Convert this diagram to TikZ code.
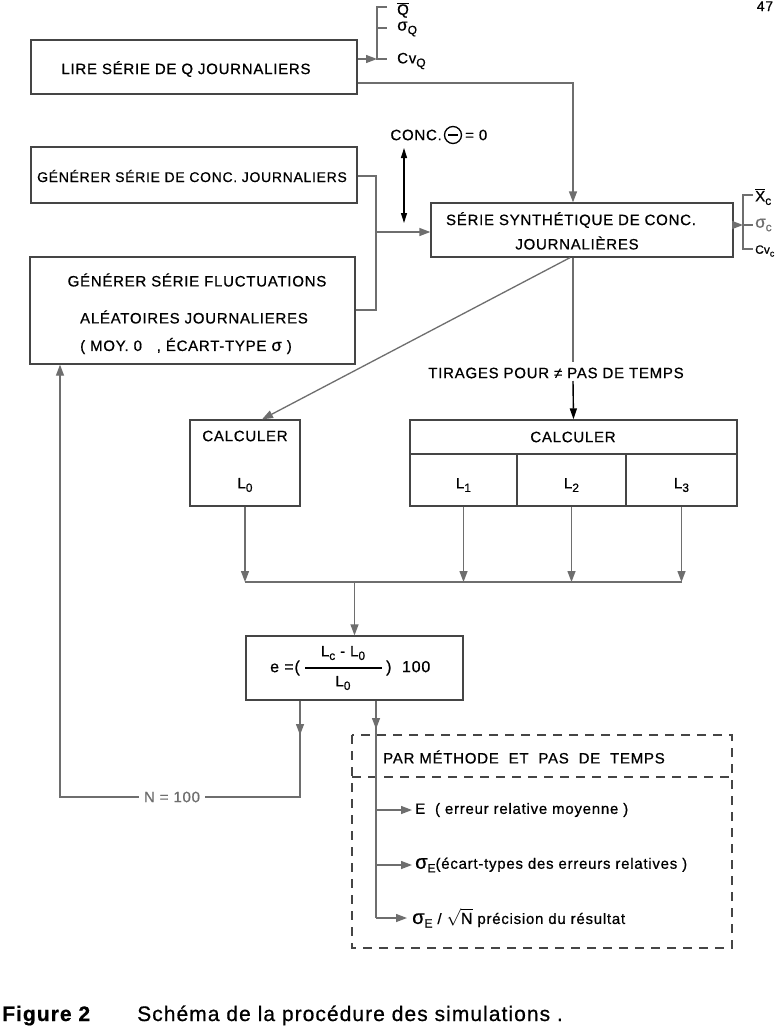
\documentclass[tikz,border=0pt]{standalone}
\usepackage{fontspec}
\setmainfont{Liberation Sans}[LetterSpace=5,FakeBold=0.7]
\usetikzlibrary{arrows.meta}
\definecolor{ln}{HTML}{6E6E6E}
\definecolor{bx}{HTML}{454545}
\newcommand\myfs[1]{\fontsize{#1}{#1}\selectfont}
\newcommand\lsub[1]{\raisebox{-0.45ex}{\myfs{12}#1}}
\newcommand\ssub[1]{\raisebox{-0.45ex}{\myfs{9}#1}}
\begin{document}
\begin{tikzpicture}[x=1pt,y=-1pt,
  box/.style={draw=bx,line width=1.3pt,inner sep=0pt},
  txt/.style={font=\myfs{15},inner sep=0pt,text=black},
  small/.style={font=\myfs{15},inner sep=0pt,text=black},
  conn/.style={draw=ln,line width=1.3pt},
  arr/.style={conn,-{Triangle[length=11pt,width=8pt]}},
  barr/.style={draw=black,line width=1.4pt,-{Triangle[length=11pt,width=7pt]}},
  dbarr/.style={draw=black,line width=1.4pt,{Triangle[length=10pt,width=6pt]}-{Triangle[length=10pt,width=6pt]}},
  dash box/.style={draw=bx,line width=1.3pt,dash pattern=on 9pt off 7pt}
]
\useasboundingbox (0,0) rectangle (776,1028);
\fill[white] (0,0) rectangle (776,1028);

% page number
\node[font=\myfs{14},inner sep=0pt,anchor=base] (pg) at (765,11) {47};

% boxes
\node[box,minimum width=326pt,minimum height=54pt] (lire) at (194,67) {};
\node[txt] (liret) at (186,69) {LIRE SÉRIE DE Q JOURNALIERS};

\node[box,minimum width=326pt,minimum height=56pt] (genconc) at (194,175) {};
\node[txt,font=\myfs{14}] (genconct) at (192,176) {GÉNÉRER SÉRIE DE CONC. JOURNALIERS};

\node[box,minimum width=325pt,minimum height=107pt] (fluct) at (192.5,310.5) {};
\node[txt] (fl1) at (197,280) {GÉNÉRER SÉRIE FLUCTUATIONS};
\node[txt] (fl2) at (194,317) {ALÉATOIRES JOURNALIERES};
\node[txt] (fl3) at (186,346) {( MOY. 0 \ \ , ÉCART-TYPE {\myfs{17}σ} )};

\node[box,minimum width=302pt,minimum height=54pt] (serie) at (582,230) {};
\node[txt] (serie1) at (571,220) {SÉRIE SYNTHÉTIQUE DE CONC.};
\node[txt] (serie2) at (577,243) {JOURNALIÈRES};

\node[box,minimum width=110pt,minimum height=86pt] (l0) at (245,463) {};
\node[txt] (l0a) at (245,436) {CALCULER};
\node[txt] (l0b) at (245,485) {L\lsub{0}};

\node[box,minimum width=327pt,minimum height=86pt] (calc) at (573.5,463) {};
\draw[draw=bx,line width=1.3pt] (410,454) -- (737,454);
\draw[draw=bx,line width=1.3pt] (517,454) -- (517,506);
\draw[draw=bx,line width=1.3pt] (626,454) -- (626,506);
\node[txt] (calct) at (573,437) {CALCULER};
\node[txt] (l1) at (463.5,485) {L\lsub{1}};
\node[txt] (l2) at (571.5,485) {L\lsub{2}};
\node[txt] (l3) at (681.5,485) {L\lsub{3}};

\node[box,minimum width=217pt,minimum height=64pt] (formula) at (354.5,668) {};
\node[txt,font=\myfs{16},anchor=east] (fe) at (300,668) {e =(};
\node[txt] (fnum) at (343,653) {L\lsub{c} - L\lsub{0}};
\node[txt] (fden) at (343,683) {L\lsub{0}};
\draw[black,line width=1.3pt] (305,668) -- (382,668);
\node[txt,font=\myfs{16},anchor=west] (f100) at (386,668) {) \ 100};

% top bracket Q
\draw[arr] (lire.east |- 0,59) -- (377,59);
\draw[conn] (387,7) -- (377,7) -- (377,59) -- (387,59);
\draw[conn] (377,28) -- (387,28);
\node[txt,anchor=west] (qbar) at (397,10) {$\overline{\mbox{Q}}$};
\node[txt,anchor=west] (sq) at (397,29) {{\myfs{17}σ}\lsub{Q}};
\node[txt,anchor=west] (cvq) at (397,61) {Cv\lsub{Q}};

% lire -> serie
\draw[arr] (lire.east |- 0,83) -- (573,83) -- (serie.north -| 573,0);

% generators -> serie
\draw[conn] (genconc.east |- 0,176) -- (376,176) -- (376,310) -- (fluct.east |- 0,310);
\draw[arr] (376,232) -- (serie.west |- 0,232);

% conc = 0
\node[txt,anchor=east] (conc) at (442,135) {CONC.};
\node[circle,draw=black,line width=1.3pt,minimum size=17pt,inner sep=0pt] (circ) at (453,135) {};
\draw[black,line width=1.6pt] (448,135) -- (458,135);
\node[txt,anchor=west] (eq0) at (465,135) {= 0};
\draw[dbarr] (404,148) -- (404,223);

% right bracket
\draw[arr] (serie.east |- 0,225) -- (743,225);
\draw[conn] (753,195) -- (743,195) -- (743,249) -- (753,249);
\draw[conn] (743,225) -- (753,225);
\node[txt,anchor=west] (xc) at (755,197) {$\overline{\mbox{X}}$\lsub{c}};
\node[txt,anchor=west,text=ln] (sc) at (755,225) {{\myfs{17}σ}\lsub{c}};
\node[txt,font=\myfs{12},anchor=west] (cvc) at (755,251) {\addfontfeature{LetterSpace=0}Cv\ssub{c}};

% serie -> calculer
\draw[arr] (serie.south -| 570,0) -- (l0.north -| 262,0);
\draw[conn] (serie.south -| 573,0) -- (573,362);
\node[txt] (tirages) at (556,373) {TIRAGES POUR ≠ PAS DE TEMPS};
\draw[barr] (573,381) -- (calc.north);

% collect
\draw[arr] (l0.south) -- (245,582);
\draw[arr] (calc.south -| 463.5,0) -- (463.5,582);
\draw[arr] (calc.south -| 571.5,0) -- (571.5,582);
\draw[arr] (calc.south -| 681.5,0) -- (681.5,582);
\draw[conn] (245,582) -- (681.5,582);
\draw[arr] (354.5,582) -- (formula.north);

% loop N=100
\draw[arr] (formula.south -| 300,0) -- (300,735);
\draw[arr] (300,733) -- (300,797) -- (60,797) -- (fluct.south -| 60,0);
\node[font=\myfs{15},fill=white,inner xsep=5pt,inner ysep=2pt,text=ln] (nlab) at (172,797) {N = 100};

% results
\draw[dash box] (352,735) rectangle (732,948);
\draw[dash box] (352,777) -- (732,777);
\node[txt,anchor=west] (par) at (383,757) {PAR MÉTHODE \ ET \ PAS \ DE \ TEMPS};
\draw[arr] (formula.south -| 376,0) -- (376,729);
\draw[conn] (376,727) -- (376,918);
\draw[arr] (376,810) -- (412,810);
\draw[arr] (376,865) -- (412,865);
\draw[arr] (376,918) -- (407,918);
\node[small,anchor=west] (r1) at (415,810) {E \ ( erreur relative moyenne )};
\node[small,anchor=west] (r2) at (415,865) {{\myfs{20}σ}\lsub{E}(écart-types des erreurs relatives )};
\node[small,anchor=west] (r3) at (412,918) {{\myfs{20}σ}\lsub{E} / {\myfs{16}$\sqrt{\mbox{N}}$} précision du résultat};

% caption
\node[font=\myfs{21},anchor=base west,inner sep=0pt] (cap) at (2,1021) {\textbf{Figure 2}\hspace{46pt}Schéma de la procédure des simulations .};
\end{tikzpicture}
\end{document}
